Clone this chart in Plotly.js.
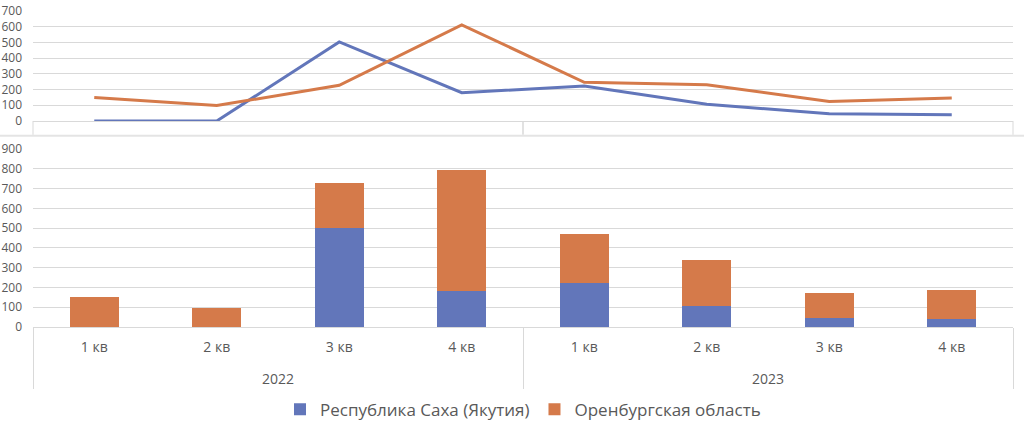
<!DOCTYPE html>
<html>
<head>
<meta charset="utf-8">
<script src="https://cdn.plot.ly/plotly-3.0.1.min.js"></script>
<style>html,body{margin:0;padding:0;background:#fff;}#chart{width:1024px;height:430px;}</style>
</head>
<body>
<div id="chart"></div>
<script>
const years = ["2022","2022","2022","2022","2023","2023","2023","2023"];
const quarters = ["1 кв","2 кв","3 кв","4 кв","1 кв","2 кв","3 кв","4 кв"];
const saha = [0, 0, 503, 180, 222, 107, 46, 40];
const orenburg = [150, 98, 227, 612, 246, 231, 124, 146];
const nameSaha = "Республика Саха (Якутия)";
const nameOren = "Оренбургская область";

const blue = "#6276BA";
const orange = "#D57A4A";
const grid = "#D9D9D9";
const txt = "#595959";
const font = "Open Sans, sans-serif";

const x = [years, quarters];

// extra blank line under each quarter label to space the year row like the reference
const quarterAlias = {};
quarters.forEach(q => { quarterAlias[q] = q + "<br>\u00a0"; });

const traces = [
  {type:"scatter", mode:"lines", x:x, y:saha, xaxis:"x", yaxis:"y", line:{color:blue, width:3}, showlegend:false, name:nameSaha},
  {type:"scatter", mode:"lines", x:x, y:orenburg, xaxis:"x", yaxis:"y", line:{color:orange, width:3}, showlegend:false, name:nameOren},
  {type:"bar", x:x, y:saha, xaxis:"x2", yaxis:"y2", marker:{color:blue}, name:nameSaha},
  {type:"bar", x:x, y:orenburg, xaxis:"x2", yaxis:"y2", marker:{color:orange}, name:nameOren}
];

const layout = {
  width:1024, height:430,
  margin:{l:33, r:11, t:11, b:103, autoexpand:false},
  paper_bgcolor:"#fff", plot_bgcolor:"#fff",
  font:{family:font, color:txt, size:13},
  barmode:"stack", bargap:0.6,
  showlegend:true,
  legend:{orientation:"h", x:0.5, xanchor:"center", yref:"container", y:0.047, yanchor:"middle", font:{size:17, color:txt}, traceorder:"normal"},
  xaxis:{type:"multicategory", domain:[0,1], anchor:"y", range:[-0.5,7.5], showticklabels:false, showline:true, linecolor:grid, linewidth:1, showgrid:false, ticks:"", fixedrange:true},
  yaxis:{domain:[0.652,1], range:[0,700], dtick:100, showgrid:true, gridcolor:grid, gridwidth:1, zeroline:false, showline:false, tickfont:{size:12, color:txt}, ticklabelstandoff:10},
  xaxis2:{type:"multicategory", domain:[0,1], anchor:"y2", range:[-0.5,7.5], showticklabels:true, showdividers:true, dividercolor:grid, dividerwidth:1, showline:true, linecolor:grid, linewidth:1, showgrid:false, ticks:"outside", ticklen:9, tickcolor:"rgba(0,0,0,0)", ticklabelstandoff:7, labelalias:quarterAlias, tickfont:{size:14, color:txt}},
  yaxis2:{domain:[0,0.563], range:[0,900], dtick:100, showgrid:true, gridcolor:grid, gridwidth:1, zeroline:false, showline:false, tickfont:{size:12, color:txt}, ticklabelstandoff:10},
  shapes:[
    {type:"line", xref:"paper", yref:"paper", x0:0, x1:0, y0:0.652, y1:0.608, line:{color:grid, width:1}},
    {type:"line", xref:"paper", yref:"paper", x0:0.5, x1:0.5, y0:0.652, y1:0.608, line:{color:grid, width:1.5}},
    {type:"line", xref:"paper", yref:"paper", x0:1, x1:1, y0:0.652, y1:0.608, line:{color:grid, width:1}},
    {type:"line", xref:"paper", yref:"paper", x0:-0.04, x1:1.02, y0:0.605, y1:0.605, line:{color:"#E4E4E4", width:2}}
  ]
};

Plotly.newPlot("chart", traces, layout, {displayModeBar:false, staticPlot:true});
</script>
</body>
</html>
